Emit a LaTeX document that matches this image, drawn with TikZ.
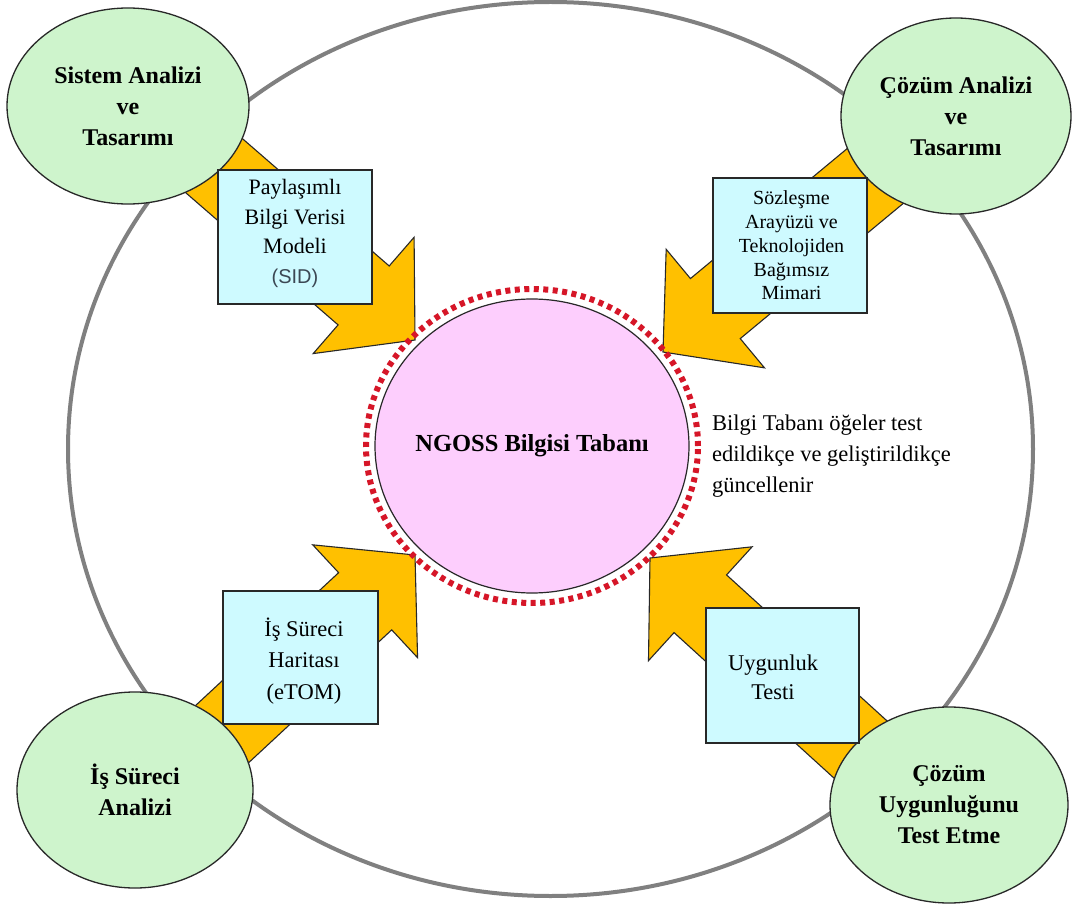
\documentclass[tikz,border=0pt]{standalone}
\usepackage{fontspec}
\setmainfont{Liberation Serif}
\newfontfamily\sidfont{Liberation Sans}
\usetikzlibrary{calc,shapes.geometric}

\definecolor{ringgray}{RGB}{128,128,128}
\definecolor{arrowgold}{RGB}{255,192,0}
\definecolor{phasegreen}{RGB}{206,244,204}
\definecolor{boxcyan}{RGB}{206,250,255}
\definecolor{basepink}{RGB}{253,206,253}
\definecolor{dotred}{RGB}{214,22,40}
\definecolor{sidgray}{RGB}{60,72,84}
\definecolor{inkdark}{RGB}{40,40,40}

% block arrow from tail #1 to tip #2
\newcommand\blockarrow[2]{%
  \coordinate (ba-base) at ($(#2)!68pt!(#1)$);
  \filldraw[arrowstyle]
    (#2)
    -- ($(ba-base)!77pt!90:(#2)$)
    -- ($(ba-base)!39pt!90:(#2)$)
    -- ($(#1)!39pt!90:(#2)$)
    -- ($(#1)!39pt!-90:(#2)$)
    -- ($(ba-base)!39pt!-90:(#2)$)
    -- ($(ba-base)!77pt!-90:(#2)$)
    -- cycle;}

\begin{document}
\begin{tikzpicture}[x=1pt,y=-1pt,
  arrowstyle/.style={fill=arrowgold,draw=inkdark,line width=1.1pt,line join=miter},
  phase/.style={ellipse,draw=inkdark,line width=1.3pt,fill=phasegreen,inner sep=0pt,
    align=center,font=\fontsize{24}{31}\selectfont\bfseries},
  infobox/.style={rectangle,draw=inkdark,line width=1.3pt,fill=boxcyan,inner sep=0pt},
  note/.style={align=left,inner sep=0pt,font=\fontsize{22.5}{31}\selectfont}]

\useasboundingbox (0,0) rectangle (1072,904);
\fill[white] (0,0) rectangle (1072,904);

% outer cycle
\draw[ringgray,line width=4pt] (550.5,449) ellipse [x radius=482.5pt,y radius=447pt];

% arrow tails and tips
\coordinate (tl-s) at (128,91);
\coordinate (tl-t) at (415,340);
\coordinate (tr-s) at (956,109);
\coordinate (tr-t) at (663,352);
\coordinate (bl-s) at (135,815);
\coordinate (bl-t) at (415,555);
\coordinate (br-s) at (949,830);
\coordinate (br-t) at (650,558);

\blockarrow{tl-s}{tl-t}
\blockarrow{tr-s}{tr-t}
\blockarrow{bl-s}{bl-t}
\blockarrow{br-s}{br-t}

% phases
\node[phase,minimum width=242pt,minimum height=196pt] (sa) at (128,106)
  {Sistem Analizi\\ve\\Tasarımı};
\node[phase,minimum width=230pt,minimum height=196pt] (ca) at (956,116)
  {Çözüm Analizi\\ve\\Tasarımı};
\node[phase,minimum width=236pt,minimum height=196pt] (ia) at (135,790)
  {İş Süreci\\Analizi};
\node[phase,minimum width=238pt,minimum height=196pt] (ct) at (949,805)
  {Çözüm\\Uygunluğunu\\Test Etme};

% deliverables
\node[infobox,minimum width=154pt,minimum height=134pt] (sid) at (295,237) {};
\node[font=\fontsize{22}{29.5}\selectfont,align=center] (sidtext) at (295,233.5)
  {Paylaşımlı\\Bilgi Verisi\\Modeli\\{\sidfont\fontsize{20}{29.5}\selectfont\color{sidgray}(SID)}};

\node[infobox,minimum width=154pt,minimum height=135pt] (tna) at (790,245.5) {};
\node[font=\fontsize{20}{23.8}\selectfont,align=center] (tnatext) at (791.5,245.5)
  {Sözleşme\\Arayüzü ve\\Teknolojiden\\Bağımsız\\Mimari};

\node[infobox,minimum width=155pt,minimum height=133pt] (etom) at (300.5,657.5) {};
\node[font=\fontsize{22.5}{31.5}\selectfont,align=center] (etomtext) at (304,661)
  {İş Süreci\\Haritası\\(eTOM)};

\node[infobox,minimum width=153pt,minimum height=135pt] (conf) at (782.5,675.5) {};
\node[font=\fontsize{22.5}{29.5}\selectfont,align=center] (conftext) at (773,677.5)
  {Uygunluk\\Testi};

% knowledge base
\draw[dotred,line width=6pt,dash pattern=on 5pt off 4.5pt] (532,446) ellipse [x radius=166pt,y radius=157pt];
\node[ellipse,draw=inkdark,line width=1.2pt,fill=basepink,inner sep=0pt,
  minimum width=314pt,minimum height=294pt] (kb) at (532,446) {};
\node[font=\fontsize{24.5}{30}\selectfont\bfseries] (kbtext) at (kb.center) {NGOSS Bilgisi Tabanı};

\node[note,anchor=west] (upd) at (712,456.5)
  {Bilgi Tabanı öğeler test\\edildikçe ve geliştirildikçe\\güncellenir};

\end{tikzpicture}
\end{document}
